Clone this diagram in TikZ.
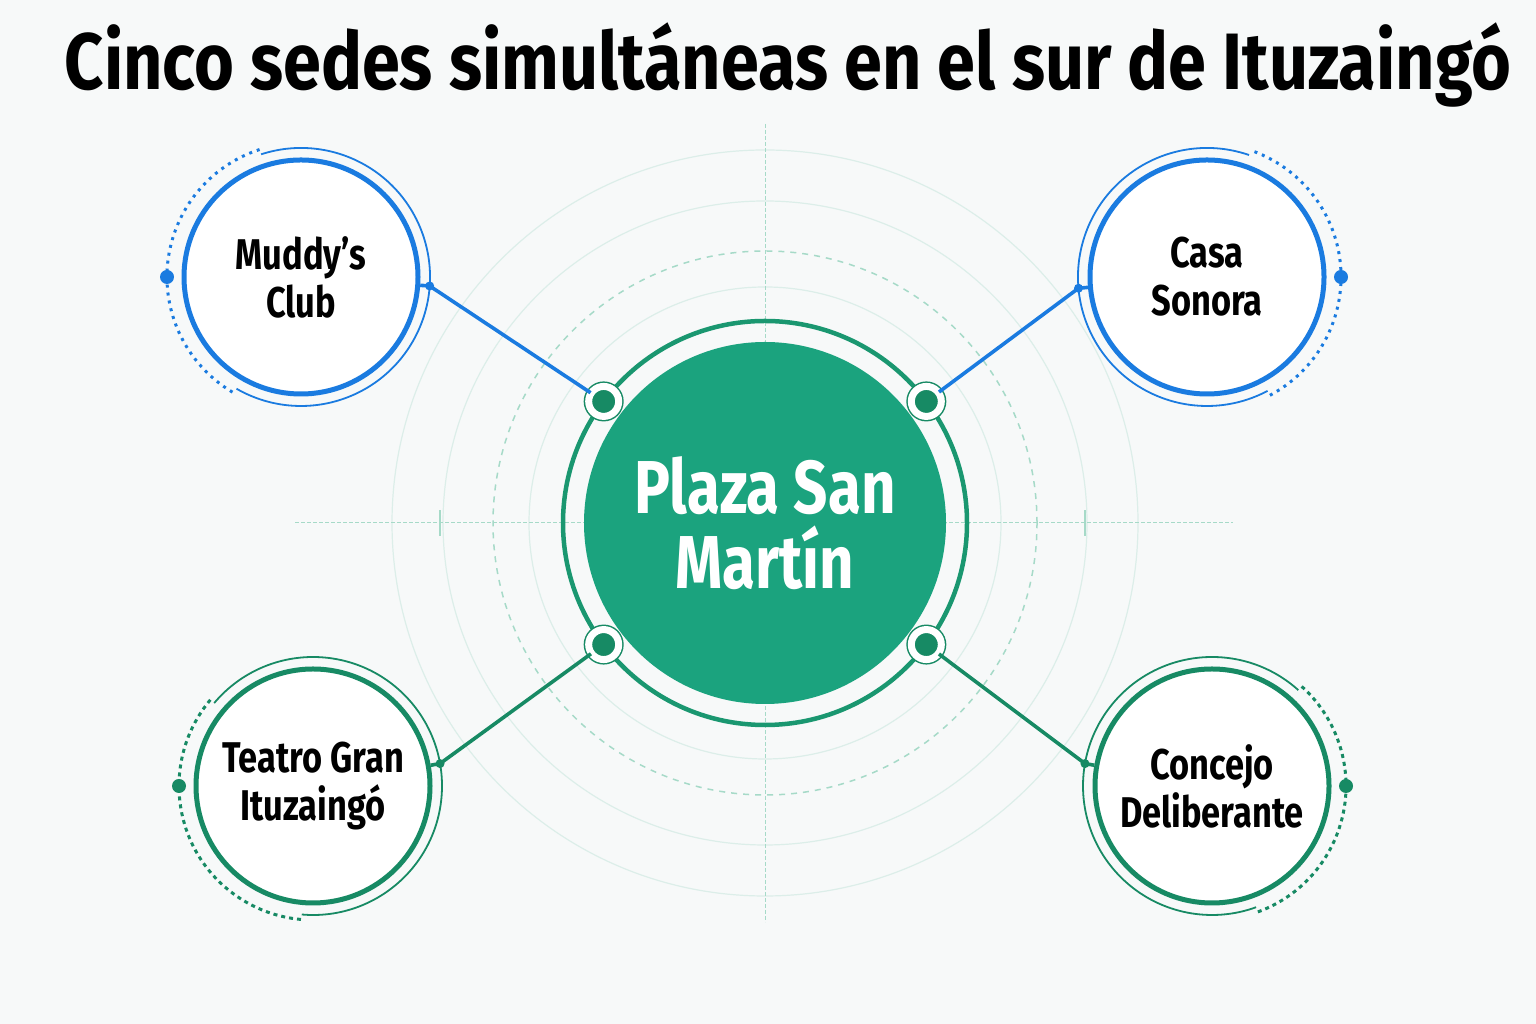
\documentclass[tikz,border=0pt]{standalone}
\usepackage{fontspec}
\setmainfont{Fira Sans}[FakeStretch=0.8]
\newfontfamily\titlefont{Fira Sans}[FakeStretch=0.855]
\usetikzlibrary{positioning, calc}

\definecolor{paper}{HTML}{F7F9F9}
\definecolor{hubfill}{HTML}{1BA37E}
\definecolor{hubring}{HTML}{1A9770}
\definecolor{venueblue}{HTML}{1A7BE0}
\definecolor{venuegreen}{HTML}{178A64}
\definecolor{faint}{HTML}{DCEEE9}
\definecolor{faintdash}{HTML}{A6DAC8}

\begin{document}
\begin{tikzpicture}[x=1pt, y=1pt,
    venue/.style={circle, draw, line width=5pt, fill=white, minimum size=234pt, inner sep=0pt,
      align=center, font=\fontsize{43}{48}\selectfont\bfseries},
    hub dot/.style={circle, fill=venuegreen, draw=venuegreen, double=white, double distance=7pt,
      line width=1.5pt, minimum size=30pt, inner sep=0pt},
    link/.style={line width=3.6pt},
    halo/.style={line width=1.8pt},
    halo dots/.style={line width=3pt, dash pattern=on 3pt off 5pt}]
    \fill[paper] (0,0) rectangle (1536,1024);
    \useasboundingbox (0,0) rectangle (1536,1024);

    % background rings and axes
    \coordinate (origin) at (765,501);
    \draw[faint, line width=1.2pt] (origin) circle (236);
    \draw[faintdash, line width=1.5pt, dash pattern=on 6pt off 6pt] (origin) circle (272);
    \draw[faint, line width=1.2pt] (origin) circle (322);
    \draw[faint, line width=1.2pt] (origin) circle (373);
    \draw[faintdash, line width=1pt, dash pattern=on 4pt off 2pt] (765,900) -- (765,102);
    \draw[faintdash, line width=1pt, dash pattern=on 4pt off 2pt] (295,501) -- (1233,501);
    \draw[faintdash, line width=1.5pt] (440,488) -- (440,514);
    \draw[faintdash, line width=1.5pt] (1085,488) -- (1085,514);

    % title
    \node[font=\fontsize{80}{90}\titlefont\bfseries] (title) at (788,959)
        {Cinco sedes simultáneas en el sur de Ituzaingó};

    % hub
    \node[circle, draw=hubring, line width=4.5pt, minimum size=404pt, inner sep=0pt, outer sep=0pt] (hub ring) at (origin) {};
    \node[circle, fill=hubfill, minimum size=362pt, inner sep=0pt, align=center, text=white,
        font=\fontsize{75}{75}\selectfont\bfseries] (hub) at (origin) {Plaza San\\Martín};
    \node[hub dot] (dot nw) at (hub ring.143) {};
    \node[hub dot] (dot ne) at (hub ring.37) {};
    \node[hub dot] (dot sw) at (hub ring.217) {};
    \node[hub dot] (dot se) at (hub ring.323) {};

    % venues
    \node[venue, draw=venueblue] (muddy) at (301,747) {Muddy’s\\Club};
    \node[venue, draw=venueblue] (casa) at (1207,747) {Casa\\Sonora};
    \node[venue, draw=venuegreen] (teatro) at (313,238) {Teatro Gran\\Ituzaingó};
    \node[venue, draw=venuegreen] (concejo) at (1212,238) {Concejo\\Deliberante};

    % halos round the venues
    \draw[venueblue, halo] ($(muddy)+(108:129)$) arc[start angle=108, end angle=-120, radius=129];
    \draw[venueblue, halo dots] ($(muddy)+(108:134)$) arc[start angle=108, end angle=240, radius=134];
    \fill[venueblue] ($(muddy)+(180:134)$) circle (7);
    \draw[venueblue, halo] ($(casa)+(71:129)$) arc[start angle=71, end angle=298, radius=129];
    \draw[venueblue, halo dots] ($(casa)+(-62:134)$) arc[start angle=-62, end angle=71, radius=134];
    \fill[venueblue] ($(casa)+(0:134)$) circle (7);
    \draw[venuegreen, halo] ($(teatro)+(-95:129)$) arc[start angle=-95, end angle=140, radius=129];
    \draw[venuegreen, halo dots, dash pattern=on 4pt off 4pt] ($(teatro)+(140:134)$) arc[start angle=140, end angle=265, radius=134];
    \fill[venuegreen] ($(teatro)+(180:134)$) circle (7);
    \draw[venuegreen, halo] ($(concejo)+(48:129)$) arc[start angle=48, end angle=290, radius=129];
    \draw[venuegreen, halo dots, dash pattern=on 4pt off 4pt] ($(concejo)+(-70:134)$) arc[start angle=-70, end angle=48, radius=134];
    \fill[venuegreen] ($(concejo)+(0:134)$) circle (7);

    % links
    \coordinate (muddy knob) at ($(muddy)+(-4:129)$);
    \coordinate (casa knob) at ($(casa)+(185:129)$);
    \coordinate (teatro knob) at ($(teatro)+(10:129)$);
    \coordinate (concejo knob) at ($(concejo)+(170:129)$);
    \draw[link, venueblue] (dot nw) -- (muddy knob) -- (muddy.-4);
    \draw[link, venueblue] (dot ne) -- (casa knob) -- (casa.185);
    \draw[link, venuegreen] (dot sw) -- (teatro knob) -- (teatro.10);
    \draw[link, venuegreen] (dot se) -- (concejo knob) -- (concejo.170);
    \fill[venueblue] (muddy knob) circle (4.5);
    \fill[venueblue] (casa knob) circle (4.5);
    \fill[venuegreen] (teatro knob) circle (4.5);
    \fill[venuegreen] (concejo knob) circle (4.5);
\end{tikzpicture}
\end{document}
